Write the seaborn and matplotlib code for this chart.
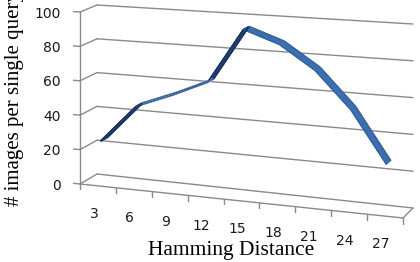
import numpy as np
import pandas as pd
import matplotlib
matplotlib.use("Agg")
import matplotlib.pyplot as plt
import seaborn as sns
from matplotlib.transforms import Transform

# ---- data ----
distance = [3, 6, 9, 12, 15, 18, 21, 24, 27]
images = [25, 47, 55, 64, 95, 88, 75, 55, 27]
y_ticks = [0, 20, 40, 60, 80, 100]
x_label = "Hamming Distance"
y_label = "# images per single query"

# ---- 3-D box geometry (image pixels, y down) ----
X_LO, X_HI, V_TOP = 1.5, 28.5, 100.0
CORNERS = {
    (0, 0, 0): (80, 184), (1, 0, 0): (403, 218),
    (0, 1, 0): (97, 174), (1, 1, 0): (413, 208),
    (0, 0, 1): (80, 12), (1, 0, 1): (403, 31),
    (0, 1, 1): (97, 5), (1, 1, 1): (413, 24),
}


class Proj(Transform):
    input_dims = 2
    output_dims = 2

    def __init__(self, dp=None, uf=None):
        super().__init__()
        self._dp = dp
        self._uf = uf

    def transform_non_affine(self, values):
        a = np.asarray(values, float)
        one = a.ndim == 1
        a = np.atleast_2d(a)
        if self._uf is None:
            u = (a[:, 0] - X_LO) / (X_HI - X_LO)
            d = np.full_like(u, self._dp)
        else:
            d = a[:, 0]
            u = np.full_like(d, self._uf)
        t = a[:, 1] / V_TOP
        X = np.zeros_like(u)
        Y = np.zeros_like(u)
        for (iu, idp, it), (px, py) in CORNERS.items():
            w = (u if iu else 1 - u) * (d if idp else 1 - d) * (t if it else 1 - t)
            X += w * px
            Y += w * py
        out = np.column_stack([X, Y])
        return out[0] if one else out


sns.set_theme(style="white")
plt.rcParams["font.family"] = ["DejaVu Sans"]

fig = plt.figure(figsize=(4.2, 2.62), dpi=100)
ax = fig.add_axes([0, 0, 1, 1])
T = ax.transData
GRID = "#8a8a8a"

# back wall gridlines and left wall gridlines
for v in y_ticks:
    ax.plot([X_LO, X_HI], [v, v], color=GRID, lw=1.0, transform=Proj(dp=1) + T)
    ax.plot([0, 1], [v, v], color=GRID, lw=1.0, transform=Proj(uf=0) + T)
# floor front edge, right edge
ax.plot([X_LO, X_HI], [0, 0], color=GRID, lw=1.0, transform=Proj(dp=0) + T)
ax.plot([0, 1], [0, 0], color=GRID, lw=1.0, transform=Proj(uf=1) + T)
# vertical value axis
ax.plot([X_LO, X_LO], [0, 100], color=GRID, lw=1.0, transform=Proj(dp=0) + T)
for v in y_ticks:
    ax.plot([X_LO - 0.55, X_LO], [v, v], color=GRID, lw=1.0, transform=Proj(dp=0) + T)
bounds = np.arange(X_LO, X_HI + 0.1, 3)
for b in bounds:
    ax.plot([b, b], [0, -3], color=GRID, lw=1.0, transform=Proj(dp=0) + T)

# ---- ribbon ----
D_FRONT, D_BACK = 0.15, 0.55
rows = []
for i in range(len(distance) - 1):
    p = np.array([[distance[i], images[i]], [distance[i + 1], images[i + 1]]], float)
    A, B = Proj(dp=D_FRONT).transform(p)
    C = Proj(dp=D_BACK).transform(p[:1])[0]
    cross = (B[0] - A[0]) * (C[1] - A[1]) - (B[1] - A[1]) * (C[0] - A[0])
    if cross > 0:
        face = "under"
    elif images[i + 1] > images[i]:
        face = "rise"
    else:
        face = "fall"
    for j in (i, i + 1):
        rows.append({"seg": i, "distance": distance[j], "images": images[j], "face": face})
seg_df = pd.DataFrame(rows)

fill_pal = {"under": "#213e6d", "rise": "#8eb0dc", "fall": "#3d6fae"}
edge_pal = {"under": "#1c355f", "rise": "#35598c", "fall": "#36649f"}
fill_pal = {k: v for k, v in fill_pal.items() if k in set(seg_df["face"])}
edge_pal = {k: v for k, v in edge_pal.items() if k in set(seg_df["face"])}

for d in np.linspace(D_FRONT, D_BACK, 15):
    sns.lineplot(data=seg_df, x="distance", y="images", units="seg", estimator=None,
                 hue="face", palette=fill_pal, legend=False, sort=False, ax=ax,
                 lw=1.3, solid_capstyle="butt", transform=Proj(dp=d) + T)
for d in (D_FRONT, D_BACK):
    sns.lineplot(data=seg_df, x="distance", y="images", units="seg", estimator=None,
                 hue="face", palette=edge_pal, legend=False, sort=False, ax=ax,
                 lw=0.8, solid_capstyle="butt", transform=Proj(dp=d) + T)

# ---- tick labels ----
PX = 0.72
for v in y_ticks:
    ax.annotate(str(v), xy=(X_LO, v), xycoords=Proj(dp=0) + T,
                xytext=(-19 * PX, -1.5 * PX), textcoords="offset points",
                ha="right", va="center", fontsize=10, color="#1a1a1a")
for x in distance:
    ax.annotate(str(x), xy=(x, 0), xycoords=Proj(dp=0) + T,
                xytext=(-4 * PX, -28.3 * PX), textcoords="offset points",
                ha="center", va="center", fontsize=10, color="#1a1a1a")

ax.set_xlim(0, 420)
ax.set_ylim(262, 0)
ax.axis("off")

fig.text(231 / 420, 7 / 262, x_label, ha="center", va="baseline",
         family=["Liberation Serif"], fontsize=15.5, color="black")
fig.text(18.5 / 420, 56 / 262, y_label, rotation=90, rotation_mode="anchor",
         ha="left", va="baseline", family=["Liberation Serif"], fontsize=15,
         color="black")

fig.savefig("out.png", dpi=100, facecolor="white")
